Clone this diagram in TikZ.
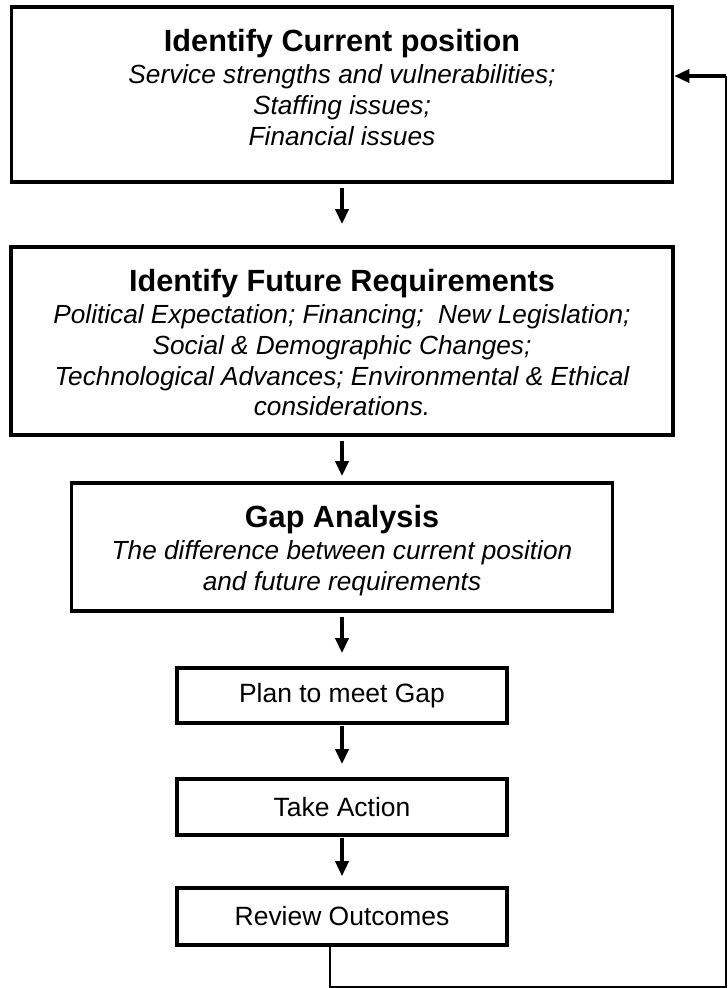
\documentclass[tikz,border=0pt]{standalone}
\usepackage{fontspec}
\setmainfont{Liberation Sans}
\usetikzlibrary{arrows.meta}
\newcommand\pxu{0.45pt}
\newcommand\headfont{\fontsize{13.8pt}{16pt}\selectfont\bfseries\upshape}
\begin{document}
\begin{tikzpicture}[x=0.45pt,y=-0.45pt,
  box/.style={draw, line width=1.6pt, rectangle, inner sep=0pt},
  flow/.style={line width=1.6pt, -{Triangle[length=6.8pt,width=5.9pt]}},
  loopline/.style={line width=0.9pt},
  body/.style={font=\fontsize{11.8pt}{13.8pt}\selectfont\itshape, align=center, inner sep=0pt, anchor=north},
  plain/.style={font=\fontsize{11.9pt}{14pt}\selectfont},
]
\useasboundingbox (0,0) rectangle (727,988);

% boxes of the planning cycle
\node[box, minimum width=661*\pxu, minimum height=175*\pxu] (cur) at (342,94.5) {};
\node[box, minimum width=662*\pxu, minimum height=188*\pxu] (fut) at (342,341) {};
\node[box, minimum width=541*\pxu, minimum height=128*\pxu] (gap) at (342,547) {};
\node[box, plain, minimum width=330*\pxu, minimum height=55*\pxu] (plan) at (342,695.5) {Plan to meet Gap};
\node[box, plain, minimum width=330*\pxu, minimum height=56*\pxu] (act) at (342,807) {Take Action};
\node[box, plain, minimum width=330*\pxu, minimum height=57*\pxu] (rev) at (342,916.5) {Review Outcomes};

% texts of the large boxes
\node[body] (curtxt) at ([yshift=-24*\pxu]cur.north)
  {{\headfont Identify Current position}\\[0.6pt]
   Service strengths and vulnerabilities;\\
   Staffing issues;\\
   Financial issues};
\node[body] (futtxt) at ([yshift=-24*\pxu]fut.north)
  {{\headfont Identify Future Requirements}\\[0.6pt]
   Political Expectation; Financing;~ New Legislation;\\
   Social \& Demographic Changes;\\
   Technological Advances; Environmental \& Ethical\\
   considerations.};
\node[body] (gaptxt) at ([yshift=-24*\pxu]gap.north)
  {{\headfont Gap Analysis}\\[0.6pt]
   The difference between current position\\
   and future requirements};

% downward flow
\draw[flow, shorten <=1.8pt, shorten >=9.5pt] (cur.south) -- (fut.north);
\draw[flow, shorten <=1.8pt, shorten >=2.3pt] (fut.south) -- (gap.north);
\draw[flow, shorten <=1.8pt, shorten >=5.9pt] (gap.south) -- (plan.north);
\draw[flow, shorten <=0.5pt, shorten >=5.9pt] (plan.south) -- (act.north);
\draw[flow, shorten <=0.5pt, shorten >=4.5pt] (act.south) -- (rev.north);

% feedback loop back to the current position
\coordinate (fbturn) at (330,986.5);
\coordinate (fbcorner) at (725.6,986.5);
\coordinate (fbtop) at (725.6,76);
\draw[loopline] (rev.south -| fbturn) -- (fbturn) -- (fbcorner) -- (fbtop);
\draw[flow] (fbtop) -- (fbtop -| cur.east);
\end{tikzpicture}
\end{document}
